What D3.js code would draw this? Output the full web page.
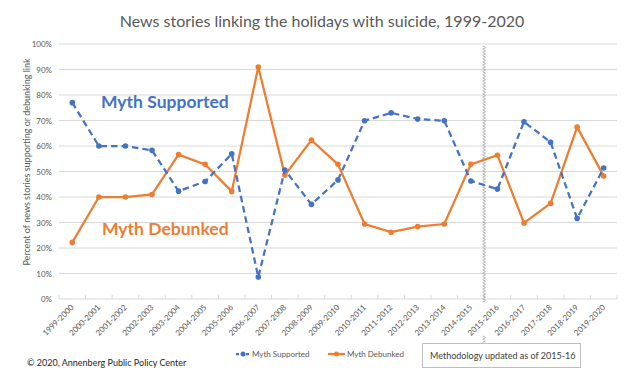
<!DOCTYPE html>
<html lang="en">
<head>
<meta charset="utf-8">
<script src="https://d3js.org/d3.v7.min.js"></script>
<style>
  body { margin: 0; background: #fff; }
  text { font-family: "Lato", "Open Sans", sans-serif; }
</style>
</head>
<body>
<div id="chart"></div>
<script>
// data
var years = ["1999-2000", "2000-2001", "2001-2002", "2002-2003", "2003-2004", "2004-2005",
             "2005-2006", "2006-2007", "2007-2008", "2008-2009", "2009-2010", "2010-2011",
             "2011-2012", "2012-2013", "2013-2014", "2014-2015", "2015-2016", "2016-2017",
             "2017-2018", "2018-2019", "2019-2020"];
var mythSupported = [77, 60, 60, 58.3, 42.3, 46.1, 56.9, 8.6, 50.6, 37.1, 46.7, 69.9,
                     73, 70.6, 69.9, 46.3, 43.1, 69.5, 61.5, 31.6, 51.4];
var mythDebunked = [22.2, 40, 40, 41, 56.6, 52.8, 42.2, 91, 48.6, 62.3, 52.8, 29.4,
                    26.2, 28.4, 29.4, 52.8, 56.4, 29.8, 37.5, 67.4, 48.2];
var yTicks = [0, 10, 20, 30, 40, 50, 60, 70, 80, 90, 100];
var methodYear = "2015-2016";

var width = 644;
var height = 384;
// plot area (named so they don't clash with window.top)
var padLeft = 59, padRight = 617, padTop = 44, padBottom = 299;

var blue = "#4472c4";
var orange = "#ed7d31";
var grey = "#595959";

var svg = d3.select("#chart")
            .append("svg")
            .attr("width", width)
            .attr("height", height);

var xScale = d3.scaleBand().domain(years).range([padLeft, padRight]);
var yScale = d3.scaleLinear().domain([0, 100]).range([padBottom, padTop]);
var xMid = function(i) { return xScale(years[i]) + xScale.bandwidth() / 2; };

// title
svg.append("text")
    .attr("x", width / 2)
    .attr("y", 27)
    .attr("text-anchor", "middle")
    .style("font-size", "16px")
    .style("fill", grey)
    .text("News stories linking the holidays with suicide, 1999-2020");

// gridlines
svg.selectAll(".grid").data(yTicks).enter()
    .append("line").attr("class", "grid")
    .attr("x1", padLeft).attr("x2", padRight)
    .attr("y1", function(d) { return yScale(d); })
    .attr("y2", function(d) { return yScale(d); })
    .attr("stroke", "#d9d9d9")
    .attr("stroke-width", 1);

// y axis labels
var yAxis = d3.axisLeft(yScale)
    .tickValues(yTicks)
    .tickSize(0)
    .tickPadding(7)
    .tickFormat(function(d) { return d + "%"; });

svg.append("g")
    .attr("transform", "translate(" + padLeft + ",0)")
    .call(yAxis)
    .call(function(g) { g.select(".domain").remove(); })
    .selectAll("text")
    .style("font-family", "Lato, sans-serif")
    .style("font-size", "8px")
    .style("fill", grey);

svg.append("text")
    .attr("transform", "translate(30,162) rotate(-90)")
    .attr("text-anchor", "middle")
    .style("font-size", "9px")
    .style("fill", grey)
    .text("Percent of news stories supporting or debunking link");

// x axis: ticks at band edges, rotated labels
svg.selectAll(".xtick").data(d3.range(years.length + 1)).enter()
    .append("line").attr("class", "xtick")
    .attr("x1", function(i) { return padLeft + i * xScale.step(); })
    .attr("x2", function(i) { return padLeft + i * xScale.step(); })
    .attr("y1", padBottom - 4).attr("y2", padBottom)
    .attr("stroke", "#d9d9d9");

// wavy "break" line where the methodology changes
var breakX = xScale(methodYear);
function wave(y0, y1) {
    var pts = [];
    var k = 0;
    for (var y = y0; y <= y1; y += 1.6) {
        pts.push([breakX + (k % 2 === 0 ? -1.4 : 1.4), y]);
        k++;
    }
    return d3.line().curve(d3.curveCatmullRom)(pts);
}
svg.append("path")
    .attr("d", wave(46, 302))
    .attr("fill", "none")
    .attr("stroke", "#a6a6a6")
    .attr("stroke-width", 0.9);
svg.append("path")
    .attr("d", wave(336, 344))
    .attr("fill", "none")
    .attr("stroke", "#a6a6a6")
    .attr("stroke-width", 0.9);

svg.append("g").selectAll("text").data(years).enter()
    .append("text")
    .attr("transform", function(d, i) {
        return "translate(" + (xMid(i) + 2) + "," + (padBottom + 9) + ") rotate(-45)";
    })
    .attr("text-anchor", "end")
    .style("font-size", "8px")
    .style("fill", grey)
    .text(function(d) { return d; });

// lines
var seriesLine = d3.line()
    .x(function(d, i) { return xMid(i); })
    .y(function(d) { return yScale(d); });

svg.append("path")
    .datum(mythDebunked)
    .attr("d", seriesLine)
    .attr("fill", "none")
    .attr("stroke", orange)
    .attr("stroke-width", 2.25);

svg.append("g").selectAll("circle")
    .data(mythDebunked).enter()
    .append("circle")
    .attr("cx", function(d, i) { return xMid(i); })
    .attr("cy", function(d) { return yScale(d); })
    .attr("r", 2.8)
    .style("fill", orange);

svg.append("path")
    .datum(mythSupported)
    .attr("d", seriesLine)
    .attr("fill", "none")
    .attr("stroke", blue)
    .attr("stroke-width", 2.25)
    .attr("stroke-dasharray", "6.5,4");

svg.append("g").selectAll("circle")
    .data(mythSupported).enter()
    .append("circle")
    .attr("cx", function(d, i) { return xMid(i); })
    .attr("cy", function(d) { return yScale(d); })
    .attr("r", 2.8)
    .style("fill", blue);

// in-chart labels
svg.append("text")
    .attr("x", 101).attr("y", 108)
    .style("font-size", "17.5px")
    .style("font-weight", "bold")
    .style("fill", blue)
    .text("Myth Supported");

svg.append("text")
    .attr("x", 102).attr("y", 235)
    .style("font-size", "17.5px")
    .style("font-weight", "bold")
    .style("fill", orange)
    .text("Myth Debunked");

// legend
var legend = svg.append("g").attr("transform", "translate(0,354)");
legend.append("line")
    .attr("x1", 236).attr("x2", 250).attr("y1", 0).attr("y2", 0)
    .attr("stroke", blue).attr("stroke-width", 2.25)
    .attr("stroke-dasharray", "3,2");
legend.append("circle").attr("cx", 243).attr("cy", 0).attr("r", 2.5).style("fill", blue);
legend.append("text")
    .attr("x", 252).attr("y", 3)
    .style("font-size", "8px").style("fill", grey)
    .text("Myth Supported");
legend.append("line")
    .attr("x1", 328).attr("x2", 345).attr("y1", 0).attr("y2", 0)
    .attr("stroke", orange).attr("stroke-width", 2.25);
legend.append("circle").attr("cx", 336.5).attr("cy", 0).attr("r", 2.5).style("fill", orange);
legend.append("text")
    .attr("x", 347).attr("y", 3)
    .style("font-size", "8px").style("fill", grey)
    .text("Myth Debunked");

// methodology note
svg.append("rect")
    .attr("x", 422.5).attr("y", 343.5)
    .attr("width", 158).attr("height", 24)
    .attr("fill", "#fff")
    .attr("stroke", "#bfbfbf");
svg.append("text")
    .attr("x", 430).attr("y", 358.5)
    .style("font-size", "9px").style("fill", "#404040")
    .text("Methodology updated as of 2015-16");

// footer
svg.append("text")
    .attr("x", 27).attr("y", 366)
    .style("font-size", "9px").style("fill", "#262626")
    .text("\u00a9 2020, Annenberg Public Policy Center");
</script>
</body>
</html>
